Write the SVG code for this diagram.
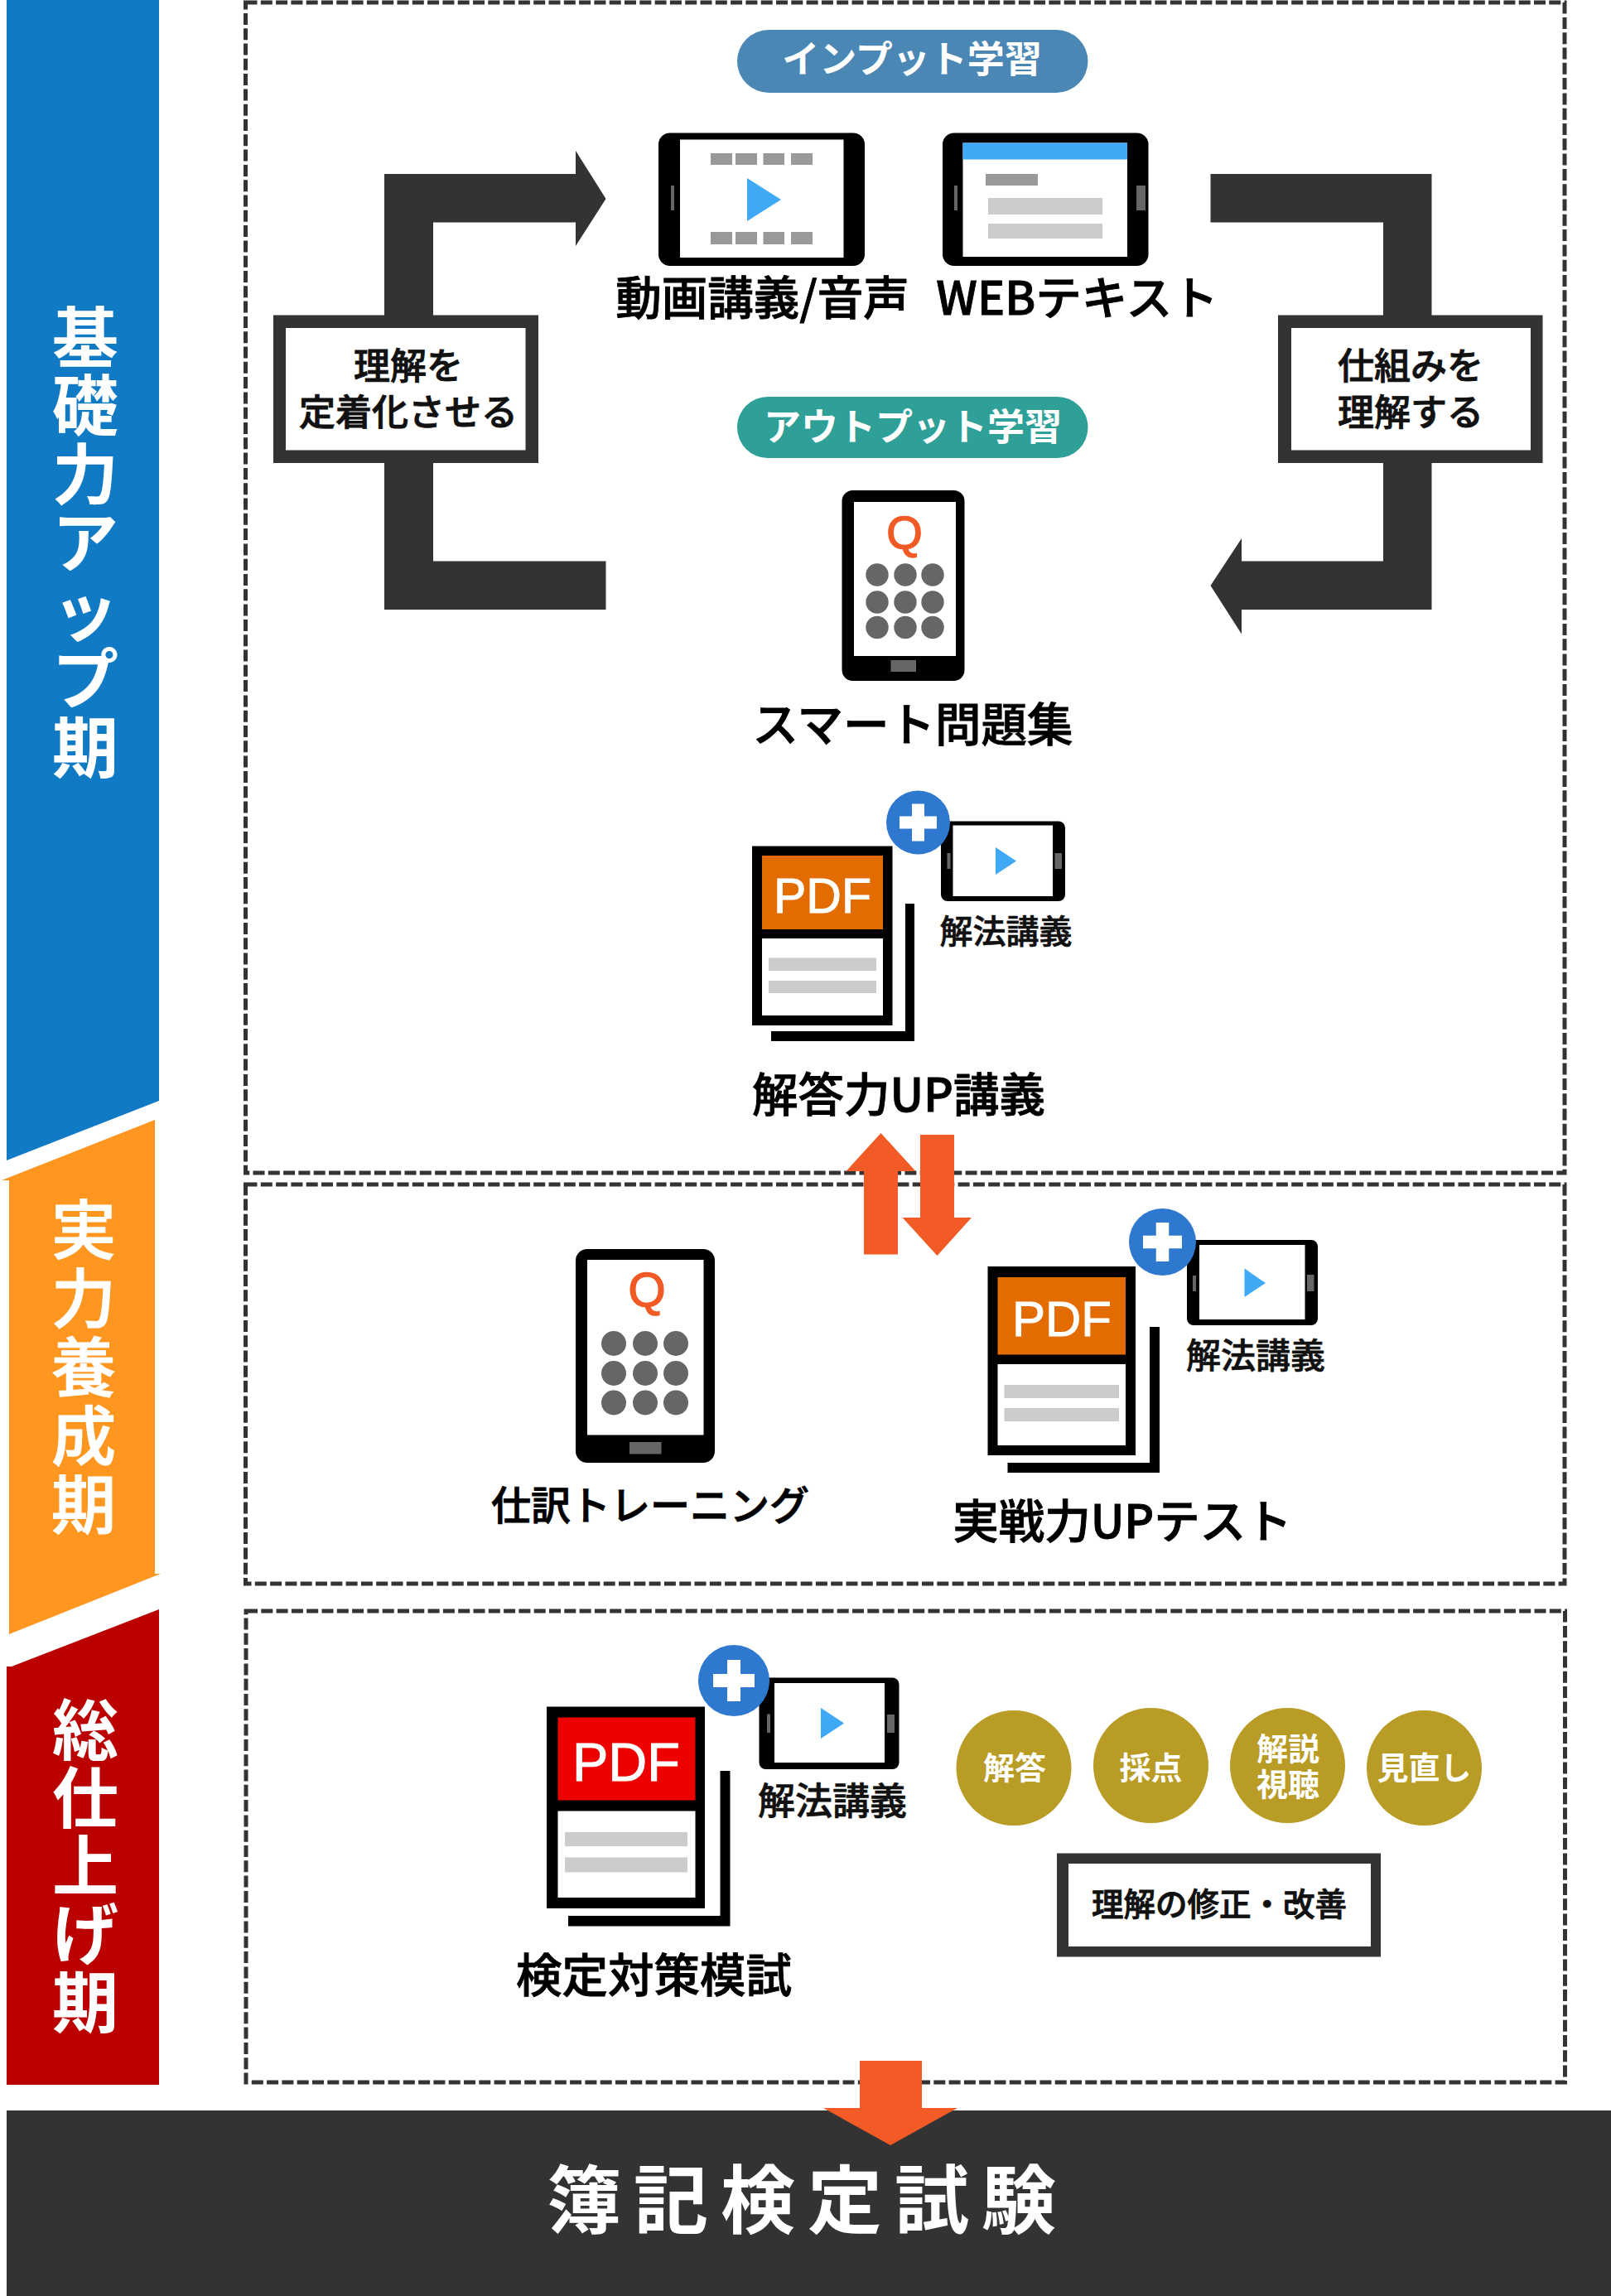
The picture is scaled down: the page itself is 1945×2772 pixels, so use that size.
<svg xmlns="http://www.w3.org/2000/svg" width="1945" height="2772" viewBox="0 0 1945 2772">
<style>
text{font-family:"Noto Sans CJK JP","Noto Sans",sans-serif;text-anchor:middle}
.k{fill:#000}.d{fill:#333}.w{fill:#fff}.o{fill:#F25A26}
.dash{fill:none;stroke:#333;stroke-width:5;stroke-dasharray:14 4.300}
.lab{font-size:55.500px;font-weight:500;fill:#000;stroke:#000;stroke-width:.9}
.sub{font-weight:500;fill:#111;stroke:#111;stroke-width:.7}
.box{font-size:44px;font-weight:500;fill:#111;stroke:#111;stroke-width:.9}
.side{font-size:80px;font-weight:700;fill:#fff}
.pill{font-size:45px;font-weight:700;fill:#fff}
.gold{fill:#B89C25}
.gt{font-size:38px;font-weight:700;fill:#fff}
.pdf{font-family:"Liberation Sans",Arial,sans-serif;fill:#fff;stroke:#fff;stroke-width:1}
.q{font-family:"Liberation Sans",Arial,sans-serif;fill:#F15A24;stroke:#F15A24;stroke-width:1.500;font-size:56px}
.g1{fill:#999}.g2{fill:#ccc}.g3{fill:#666}.pl{fill:#3FA9F5}.plus{fill:#2F78D0}
</style>
<rect width="1945" height="2772" fill="#fff"/>
<g id="phase-basic"><polygon points="8,0 192,0 192,1329 8,1401" fill="#117AC4"/>
<text class="side"><tspan x="103" y="437">基</tspan><tspan x="103" y="519">礎</tspan><tspan x="103" y="602">力</tspan><tspan x="103" y="684">ア</tspan><tspan x="103" y="767">ッ</tspan><tspan x="103" y="849">プ</tspan><tspan x="103" y="932">期</tspan></text></g>
<g id="phase-practice"><polygon points="2,1425 187,1352 187,1900 194,1900 11,1973 11,1425" fill="#FF9620"/>
<text class="side" style="font-size:78px;font-weight:500;stroke:#fff;stroke-width:1.200"><tspan x="101" y="1514">実</tspan><tspan x="101" y="1597">力</tspan><tspan x="101" y="1680">養</tspan><tspan x="101" y="1763">成</tspan><tspan x="101" y="1846">期</tspan></text></g>
<g id="phase-final"><polygon points="8,2012 14,2012 192,1943 192,2517 8,2517" fill="#BB0000"/>
<text class="side"><tspan x="103" y="2118">総</tspan><tspan x="103" y="2200">仕</tspan><tspan x="103" y="2282">上</tspan><tspan x="103" y="2364">げ</tspan><tspan x="103" y="2447">期</tspan></text></g>

<g id="frames"><rect class="dash" x="296.500" y="3" width="1592.500" height="1413"/><rect class="dash" x="296.500" y="1430" width="1592.500" height="482"/><rect class="dash" x="297" y="1945" width="1592.500" height="569"/></g>

<g id="exam"><rect x="8" y="2548" width="1937" height="224" fill="#333"/>
<text x="660" y="2689" style="font-size:90px;font-weight:700;fill:#fff;text-anchor:start;letter-spacing:15px">簿記検定試験</text></g>

<g id="connectors">
<path class="d" d="M464 736V210H695V182L731.500 240L695 297V268.500H523V677.500H731.500V736Z"/>
<path class="d" d="M1461.500 210H1728.500V736H1499V765.500L1461.500 707L1499 650V677.500H1670V268.500H1461.500Z"/>
<polygon class="o" points="1043,1514.500 1043,1414 1021.500,1414 1063.500,1368 1105.500,1414 1084,1414 1084,1514.500"/>
<polygon class="o" points="1111,1370 1152,1370 1152,1470 1173,1470 1131.500,1516 1089.500,1470 1111,1470"/>
<polygon class="o" points="1038,2488 1113,2488 1113,2545 1156,2545 1075,2590 994,2545 1038,2545"/>
</g>

<g id="box-teichaku"><rect class="d" x="330" y="380.500" width="320" height="178.500"/><rect class="w" x="345" y="396" width="289.500" height="147.500"/>
<text class="box" x="493" y="458">理解を</text><text class="box" x="493" y="514">定着化させる</text></g>
<g id="box-shikumi"><rect class="d" x="1543" y="380.500" width="319.500" height="178.500"/><rect class="w" x="1559" y="396" width="289" height="147.500"/>
<text class="box" x="1703" y="458">仕組みを</text><text class="box" x="1703" y="514">理解する</text></g>

<g id="pill-input"><rect x="890" y="36" width="423.500" height="76" rx="38" fill="#4B87B5"/><text class="pill" x="1101" y="88">インプット学習</text></g>
<g id="pill-output"><rect x="890" y="479" width="423.500" height="74" rx="37" fill="#2FA098"/><text class="pill" x="1102" y="532">アウトプット学習</text></g>

<g id="video-lecture"><rect class="k" x="795" y="160.500" width="249" height="160.500" rx="14"/><rect class="w" x="821" y="168.500" width="197.500" height="142.500"/>
<rect class="g3" x="810" y="224" width="4" height="30"/>
<g class="g1"><rect x="858" y="185" width="26" height="14"/><rect x="888" y="185" width="26" height="14"/><rect x="921.500" y="185" width="25.500" height="14"/><rect x="955" y="185" width="26" height="14"/><rect x="858" y="280" width="26" height="15"/><rect x="888" y="280" width="26" height="15"/><rect x="921.500" y="280" width="25.500" height="15"/><rect x="955" y="280" width="26" height="15"/></g>
<polygon class="pl" points="902,215 943,241 902,267"/>
<text class="lab" x="920.500" y="380">動画講義/音声</text></g>

<g id="web-text"><rect class="k" x="1138" y="160.500" width="248.500" height="160.500" rx="14"/><rect class="w" x="1162.500" y="172.500" width="198.500" height="137.500"/><rect class="pl" x="1162.500" y="172.500" width="198.500" height="20"/>
<rect class="g3" x="1152" y="224" width="4" height="30"/><rect class="g3" x="1372" y="224" width="11" height="30"/>
<rect class="g1" x="1190" y="210" width="63" height="14"/><rect class="g2" x="1193" y="239" width="138" height="20"/><rect class="g2" x="1193" y="270" width="138" height="18"/>
<text class="lab" x="1300.500" y="380">WEBテキスト</text></g>

<g id="smart-workbook"><rect class="k" x="1016.500" y="592" width="148" height="230" rx="13"/><rect class="w" x="1031" y="606" width="123" height="186"/><rect class="g3" x="1075.500" y="797" width="30.500" height="14"/>
<text class="q" x="1092" y="662">Q</text>
<g class="g3"><circle cx="1059" cy="694" r="13.700"/><circle cx="1093" cy="694" r="13.700"/><circle cx="1126" cy="694" r="13.700"/><circle cx="1059" cy="727" r="13.700"/><circle cx="1093" cy="727" r="13.700"/><circle cx="1126" cy="727" r="13.700"/><circle cx="1059" cy="757.500" r="13.700"/><circle cx="1093" cy="757.500" r="13.700"/><circle cx="1126" cy="757.500" r="13.700"/></g>
<text class="lab" x="1102" y="895">スマート問題集</text></g>

<g id="answer-up"><rect class="k" x="908" y="1021.500" width="169.500" height="216.500"/><rect x="920" y="1033" width="146" height="89" fill="#E36C00"/><rect class="w" x="920" y="1133" width="146" height="93"/>
<rect class="g2" x="928" y="1156.500" width="130" height="15.500"/><rect class="g2" x="928" y="1184" width="130" height="15"/>
<path class="k" d="M1093 1091H1104V1257H931V1245H1093Z"/>
<text class="pdf" x="993" y="1102" font-size="59">PDF</text>
<rect class="k" x="1136" y="991.500" width="150" height="96.500" rx="8"/><rect class="w" x="1150.500" y="996.500" width="120.500" height="85.500"/><rect class="g3" x="1143.500" y="1030" width="4" height="19"/><rect class="g3" x="1273.500" y="1030" width="8.500" height="19"/>
<polygon class="pl" points="1202,1023 1227,1039.500 1202,1056"/>
<circle class="plus" cx="1108.500" cy="993" r="38.500"/><path d="M1086 993H1131M1108.500 970.500V1015.500" stroke="#fff" stroke-width="15" fill="none"/>
<text class="sub" x="1214.500" y="1139" font-size="40">解法講義</text>
<text class="lab" x="1085" y="1342">解答力UP講義</text></g>

<g id="journal-training"><rect class="k" x="695" y="1508" width="168" height="258" rx="14"/><rect class="w" x="709" y="1521" width="140.500" height="211.500"/><rect class="g3" x="760" y="1741" width="38.500" height="14.500"/>
<text class="q" x="781" y="1577" style="font-size:58px">Q</text>
<g class="g3"><circle cx="741" cy="1622" r="15"/><circle cx="779" cy="1622" r="15"/><circle cx="816" cy="1622" r="15"/><circle cx="741" cy="1658" r="15"/><circle cx="779" cy="1658" r="15"/><circle cx="816" cy="1658" r="15"/><circle cx="741" cy="1693.500" r="15"/><circle cx="779" cy="1693.500" r="15"/><circle cx="816" cy="1693.500" r="15"/></g>
<text class="lab" x="785" y="1835" style="font-size:48px">仕訳トレーニング</text></g>

<g id="practical-test"><rect class="k" x="1192.500" y="1529" width="178.500" height="228"/><rect x="1204.500" y="1542" width="154.500" height="93.500" fill="#E36C00"/><rect class="w" x="1204.500" y="1647" width="154.500" height="98"/>
<rect class="g2" x="1212.500" y="1672" width="138.500" height="16"/><rect class="g2" x="1212.500" y="1700" width="138.500" height="16"/>
<path class="k" d="M1388 1602H1400V1778H1216.500V1766H1388Z"/>
<text class="pdf" x="1282" y="1613" font-size="60">PDF</text>
<rect class="k" x="1433" y="1497" width="158" height="103" rx="8"/><rect class="w" x="1448" y="1503" width="127.500" height="90"/><rect class="g3" x="1440" y="1540" width="4" height="19"/><rect class="g3" x="1578" y="1539" width="8.500" height="20"/>
<polygon class="pl" points="1502.500,1531.500 1528,1549 1502.500,1566"/>
<circle class="plus" cx="1403.500" cy="1499.500" r="40.500"/><path d="M1380 1499.500H1427M1403.500 1476V1523" stroke="#fff" stroke-width="15.500" fill="none"/>
<text class="sub" x="1516" y="1652" font-size="42">解法講義</text>
<text class="lab" x="1355" y="1857">実戦力UPテスト</text></g>

<g id="mock-exam"><rect class="k" x="660" y="2060.500" width="191" height="243.500"/><rect x="673.500" y="2073.500" width="166" height="100" fill="#EE0000"/><rect class="w" x="673.500" y="2186.500" width="166" height="104.500"/>
<rect class="g2" x="682" y="2212" width="148" height="17"/><rect class="g2" x="682" y="2242.500" width="148" height="18"/>
<path class="k" d="M869.500 2138H881.500V2325.500H686V2313H869.500Z"/>
<text class="pdf" x="756" y="2150" font-size="65">PDF</text>
<rect class="k" x="916.500" y="2025.500" width="169" height="110.500" rx="8"/><rect class="w" x="935" y="2032" width="133" height="96"/><rect class="g3" x="926" y="2069.500" width="4" height="22.500"/><rect class="g3" x="1071" y="2070" width="9" height="22"/>
<polygon class="pl" points="991,2062 1019,2080.500 991,2099"/>
<circle class="plus" cx="886" cy="2029" r="43"/><path d="M861 2029H911M886 2004V2054" stroke="#fff" stroke-width="16" fill="none"/>
<text class="sub" x="1005" y="2191" font-size="45">解法講義</text>
<text class="lab" x="789.500" y="2405">検定対策模試</text></g>

<g id="step-answer"><circle class="gold" cx="1224" cy="2134.500" r="69.500"/><text class="gt" x="1225" y="2148">解答</text></g>
<g id="step-score"><circle class="gold" cx="1389.500" cy="2131.500" r="69.500"/><text class="gt" x="1389.500" y="2148">採点</text></g>
<g id="step-explain"><circle class="gold" cx="1554.500" cy="2131.500" r="69.500"/><text class="gt" x="1555" y="2125">解説</text><text class="gt" x="1555" y="2168">視聴</text></g>
<g id="step-review"><circle class="gold" cx="1719.500" cy="2134.500" r="69.500"/><text class="gt" x="1719.500" y="2148">見直し</text></g>
<g id="box-fix"><rect class="d" x="1276" y="2237.500" width="391" height="125"/><rect class="w" x="1290" y="2250" width="365" height="100"/><text class="box" x="1472" y="2313" style="font-size:38.500px">理解の修正・改善</text></g>
</svg>
